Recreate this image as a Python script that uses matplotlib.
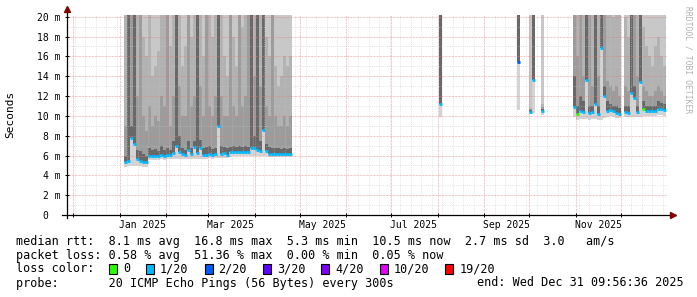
import matplotlib
matplotlib.use("Agg")
import matplotlib.pyplot as plt
import matplotlib.dates as mdates
from matplotlib.patches import Rectangle
import numpy as np
import pandas as pd

# ---------------- data (milliseconds) ----------------
end_time = pd.Timestamp("2025-12-31 09:56:36")
start_time = end_time - pd.Timedelta(days=400)

bin_days = 2

# main section (2-day bins from 2025-01-04)
main_start = "2025-01-04"
main_med = [5.3, 5.4, 7.8, 7.2, 5.6, 5.4, 5.3, 5.3, 6.0, 6.0, 6.0, 6.0, 6.1, 6.0,
            6.1, 6.1, 6.3, 7.0, 6.4, 6.2, 6.1, 6.6, 6.2, 6.9, 6.3, 6.8, 6.1, 6.1,
            6.2, 6.1, 6.2, 9.0, 6.2, 6.3, 6.1, 6.4, 6.4, 6.35, 6.35, 6.35, 6.4, 6.35,
            6.8, 6.8, 6.6, 6.5, 8.6, 6.5, 6.2, 6.2, 6.2, 6.2, 6.2, 6.2, 6.2, 6.2]
main_lo = [4.8, 4.9, 4.9, 4.9, 4.9, 4.9, 4.8, 4.8, 5.5, 5.5, 5.5, 5.5, 5.6, 5.5,
           5.6, 5.6, 5.6, 5.6, 5.6, 5.6, 5.6, 5.6, 5.6, 5.6, 5.6, 5.6, 5.6, 5.6,
           5.7, 5.6, 5.7, 5.7, 5.7, 5.7, 5.7, 5.8, 5.9, 5.9, 5.9, 5.9, 5.9, 5.9,
           5.9, 5.9, 5.9, 5.9, 5.9, 5.9, 5.8, 5.8, 5.8, 5.8, 5.8, 5.8, 5.8, 5.8]
main_t1 = [6.0, 21, 9.0, 21, 6.6, 6.5, 6.2, 6.0, 6.8, 6.6, 6.7, 6.5, 7.0, 6.6,
           6.8, 6.6, 7.5, 21, 8.0, 6.8, 6.6, 7.5, 6.8, 7.5, 21, 7.6, 6.8, 6.9,
           7.0, 6.7, 6.8, 21, 7.0, 6.9, 6.8, 6.9, 7.0, 6.9, 7.0, 6.9, 7.0, 6.9,
           21, 8.0, 21, 7.5, 21, 7.2, 6.9, 6.8, 6.8, 6.8, 6.7, 6.8, 6.7, 6.8]
main_t2 = [9.0, 21, 21, 21, 12, 21, 10, 8.5, 11, 9, 10, 9.5, 12, 11,
           21, 9, 12, 21, 13, 10, 10, 21, 11, 12, 21, 13, 10, 21,
           11, 10, 12, 21, 12, 10, 10, 21, 11, 10, 21, 11, 12, 21,
           21, 14, 21, 13, 21, 11, 10, 21, 10, 9, 9, 10, 9, 10]
main_t3 = [21, 21, 21, 21, 21, 21, 18, 16, 21, 14, 15, 16.5, 21, 21,
           21, 17, 21, 21, 21, 15, 17, 21, 18, 21, 21, 21, 16, 21,
           21, 18, 21, 21, 21, 16, 14, 21, 18, 15, 21, 19, 21, 21,
           21, 21, 21, 21, 21, 18, 16, 21, 15, 13, 14, 16, 15, 16]
main_loss = [1] * 56

# last section (2-day bins from 2025-10-30)
last_start = "2025-10-30"
last_med = [10.9, 10.2, 10.5, 10.4, 13.6, 10.3, 10.4, 11.2, 10.2, 16.8, 12.0, 10.5,
            10.6, 10.5, 10.3, 10.2, np.nan, 10.4, 10.3, 12.3, 11.8, 10.4, 13.4, 10.7,
            10.5, 10.5, 10.5, 10.5, 10.7, 10.7, 10.6]
last_lo = [9.9, 9.6, 9.7, 9.7, 9.7, 9.6, 9.7, 9.7, 9.6, 9.6, 9.8, 9.9,
           10.0, 9.9, 9.8, 9.8, np.nan, 9.9, 9.9, 9.9, 9.9, 9.9, 9.9, 10.0,
           10.0, 10.0, 10.0, 10.0, 10.1, 10.1, 10.0]
last_t1 = [14, 11, 12, 11.5, 21, 11, 11, 21, 11, 21, 13, 11.5,
           11.2, 11, 11, 10.8, np.nan, 11, 11, 21, 13, 11, 21, 11.5,
           11, 11, 11, 11, 11.5, 11.3, 11.2]
last_t2 = [21, 16, 21, 14, 21, 21, 13, 21, 14, 21, 21, 13.5,
           13, 12.5, 13, 12, np.nan, 13, 12.5, 21, 21, 14, 21, 13,
           12.5, 12, 12, 12.5, 13, 12.5, 12]
last_t3 = [21, 21, 21, 21, 21, 21, 21, 21, 21, 21, 21, 21,
           21, 20, 21, 21, np.nan, 20, 18, 21, 21, 21, 21, 19,
           17, 16, 15, 17, 18, 16, 15]
last_loss = [1, 0, 1, 1, 1, 1, 1, 1, 1, 1, 1, 1,
             1, 1, 1, 1, 1, 1, 1, 1, 1, 1, 1, 0,
             1, 1, 1, 1, 1, 1, 1]

# isolated short measurement periods
spike_dates = ["2025-08-02", "2025-09-23", "2025-10-01", "2025-10-03", "2025-10-09"]
spike_med = [11.2, 15.4, 10.4, 13.6, 10.5]
spike_lo = [9.9, 10.6, 10.2, 10.3, 10.1]
spike_t1 = [21, 21, 10.6, 21, 10.7]
spike_t2 = [21, 21, 10.7, 21, 10.9]
spike_t3 = [21, 21, 10.8, 21, 11.2]
spike_loss = [1, 2, 1, 1, 1]

loss_labels = ["0", "1/20", "2/20", "3/20", "4/20", "10/20", "19/20"]
loss_colors = ["#26ff00", "#00b8ff", "#0059ff", "#5e00ff", "#7e00ff", "#dd00ff", "#ff0000"]

y_ticks = [0, 2, 4, 6, 8, 10, 12, 14, 16, 18, 20]
x_label_months = ["2025-01-01", "2025-03-01", "2025-05-01", "2025-07-01", "2025-09-01", "2025-11-01"]

stat_lines = [
    "median rtt:  8.1 ms avg  16.8 ms max  5.3 ms min  10.5 ms now  2.7 ms sd  3.0   am/s",
    "packet loss: 0.58 % avg  51.36 % max  0.00 % min  0.05 % now",
]
probe_text = "probe:       20 ICMP Echo Pings (56 Bytes) every 300s"
end_text = "end: Wed Dec 31 09:56:36 2025"

# ---------------- assemble ----------------
main_x = pd.date_range(main_start, periods=len(main_med), freq=f"{bin_days}D")
last_x = pd.date_range(last_start, periods=len(last_med), freq=f"{bin_days}D")
spike_x = pd.to_datetime(spike_dates)

X = np.concatenate([mdates.date2num(main_x), mdates.date2num(last_x), mdates.date2num(spike_x)])
MED = np.array(main_med + last_med + spike_med, float)
LO = np.array(main_lo + last_lo + spike_lo, float)
T1 = np.array(main_t1 + last_t1 + spike_t1, float)
T2 = np.array(main_t2 + last_t2 + spike_t2, float)
T3 = np.array(main_t3 + last_t3 + spike_t3, float)
LOSS = np.array(main_loss + last_loss + spike_loss)
TOP = 21.0

ok = ~np.isnan(MED)
X, MED, LO, T1, T2, T3, LOSS = X[ok], MED[ok], LO[ok], T1[ok], T2[ok], T3[ok], LOSS[ok]

W, H = 697, 297
fig = plt.figure(figsize=(W / 100, H / 100), dpi=100)
fig.patch.set_facecolor("white")
ax = fig.add_axes([66.5 / W, (H - 215) / H, 600 / W, 200 / H])
ax.set_facecolor("white")

mono = "DejaVu Sans Mono"

layers = [
    (LO, MED, "#d4d4d4"),
    (MED, T1, "#686868"),
    (T1, T2, "#9c9c9c"),
    (T2, T3, "#b2b2b2"),
    (T3, np.full_like(T3, TOP), "#c8c8c8"),
]
for bot, top, col in layers:
    ax.bar(X, top - bot, width=bin_days, bottom=bot, align="edge", color=col,
           linewidth=0, antialiased=False, zorder=1)

ax.hlines(MED, X, X + bin_days, colors=[loss_colors[l] for l in LOSS], linewidth=2.0,
          zorder=4, capstyle="butt")

ax.set_xlim(mdates.date2num(start_time), mdates.date2num(end_time))
ax.set_ylim(0, 20.17)

ax.xaxis.set_major_locator(mdates.MonthLocator())
ax.xaxis.set_minor_locator(mdates.WeekdayLocator(byweekday=mdates.MO))
ax.xaxis.set_major_formatter(plt.NullFormatter())
ax.set_yticks(y_ticks)
ax.set_yticklabels([("%d m" % v) if v else "0  " for v in y_ticks], family=mono, fontsize=7)
ax.yaxis.set_minor_locator(plt.MultipleLocator(1))

ax.tick_params(which="major", direction="inout", length=3, width=0.7, pad=3)
ax.tick_params(which="minor", length=0)

ax.set_axisbelow(False)
ax.grid(True, which="minor", color="#c4c4c4", linestyle=(0, (0.72, 1.44)), linewidth=0.72, alpha=0.6)
ax.grid(True, which="major", color="#e08080", linestyle=(0, (0.72, 0.72)), linewidth=0.72, alpha=0.6)

for s in ax.spines.values():
    s.set_visible(False)

# axis lines and arrows
ax.plot([-0.008, 1.01], [0, 0], transform=ax.transAxes, color="black", lw=0.9, clip_on=False, zorder=5)
ax.plot([0, 0], [-0.015, 1.01], transform=ax.transAxes, color="black", lw=0.9, clip_on=False, zorder=5)
ax.plot([1.01], [0], transform=ax.transAxes, marker=">", color="#800000", markersize=4, clip_on=False, zorder=6)
ax.plot([0], [1.03], transform=ax.transAxes, marker="^", color="#800000", markersize=4, clip_on=False, zorder=6)

# month labels (centred mid-month)
for m in x_label_months:
    d = pd.Timestamp(m)
    xc = mdates.date2num(d + pd.Timedelta(days=15))
    ax.text(xc, -0.05, d.strftime("%b %Y"), transform=ax.get_xaxis_transform(),
            ha="center", va="center", family=mono, fontsize=7)

# y label and watermark
fig.text(10.5 / W, 1 - 114 / H, "Seconds", rotation=90, ha="center", va="center",
         family=mono, fontsize=8)
fig.text(688 / W, 1 - 60 / H, "RRDTOOL / TOBI OETIKER", rotation=270, ha="center",
         va="center", family=mono, fontsize=5.8, color="#b0b0b0")

# legend / stats
fs = 8.5
cw = 7.1
rows = [241, 255, 269, 283]
for i, line in enumerate(stat_lines):
    fig.text(16 / W, 1 - rows[i] / H, line, ha="left", va="center", family=mono, fontsize=fs)
fig.text(16 / W, 1 - rows[2] / H, "loss color:", ha="left", va="center", family=mono, fontsize=fs)
bx = 109.0
for lab, col in zip(loss_labels, loss_colors):
    fig.add_artist(Rectangle((bx / W, 1 - (rows[2] + 5) / H), 8 / W, 10 / H,
                             transform=fig.transFigure, facecolor=col, edgecolor="black",
                             linewidth=0.8))
    fig.text((bx + 14) / W, 1 - rows[2] / H, lab, ha="left", va="center", family=mono, fontsize=fs)
    bx = bx + 14 + len(lab) * cw + 16
fig.text(16 / W, 1 - rows[3] / H, probe_text, ha="left", va="center", family=mono, fontsize=fs)
fig.text(684 / W, 1 - rows[3] / H, end_text, ha="right", va="center", family=mono, fontsize=fs)

fig.savefig("out.png", dpi=100, facecolor="white")
